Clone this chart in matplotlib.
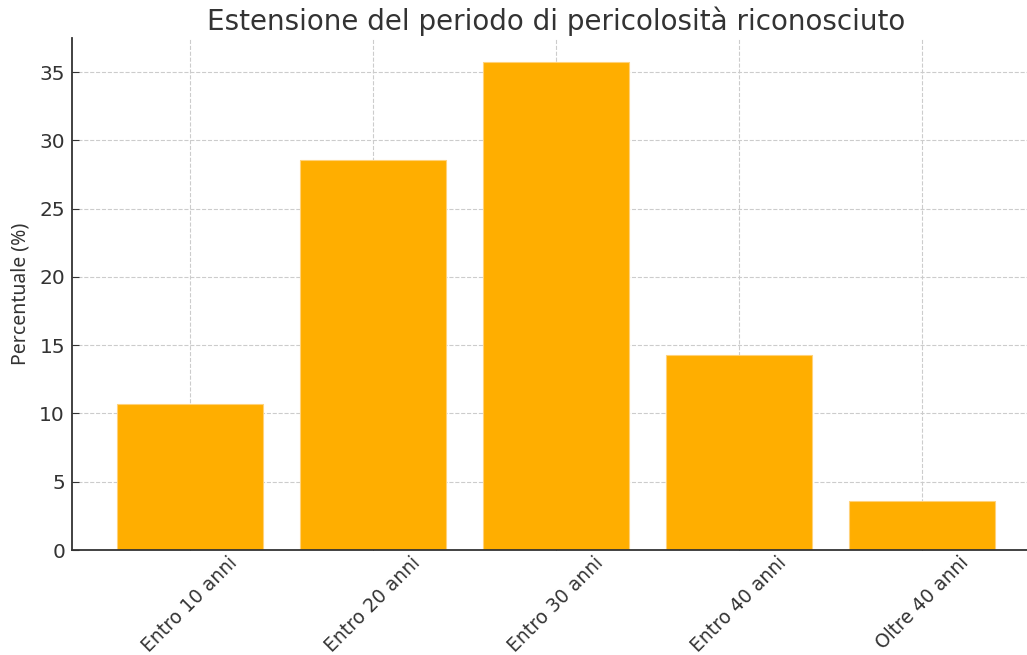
import matplotlib
matplotlib.use("Agg")
import matplotlib.pyplot as plt

plt.rcParams["font.family"] = ["DejaVu Sans"]

categories = ["Entro 10 anni", "Entro 20 anni", "Entro 30 anni", "Entro 40 anni", "Oltre 40 anni"]
values = [10.71, 28.57, 35.71, 14.29, 3.57]
title = "Estensione del periodo di pericolosità riconosciuto"
ylabel = "Percentuale (%)"

text_color = "#333333"
bar_color = "#FFAE00"

fig = plt.figure(figsize=(10.27, 6.55), dpi=100)
ax = fig.add_axes([72 / 1027, 1 - 550 / 655, (1027 - 72) / 1027, (550 - 38) / 655])

x = list(range(len(categories)))
ax.bar(x, values, width=0.8, color=bar_color, edgecolor="#FFD27A", linewidth=0.8, zorder=2)

ax.set_xlim(-0.645, 4.574)
ax.set_ylim(0, 37.5)
ax.set_xticks(x)
ax.set_xticklabels(categories, rotation=45, ha="center", fontsize=13.5, color=text_color)
ax.set_yticks([0, 5, 10, 15, 20, 25, 30, 35])
ax.tick_params(axis="y", labelsize=14.5, labelcolor=text_color, direction="in", length=5, color=text_color, pad=5)
ax.tick_params(axis="x", direction="in", length=5, color=text_color, pad=2)

ax.grid(True, linestyle="--", color="#cccccc", linewidth=0.8, zorder=0)
ax.set_axisbelow(True)
for s in ["top", "right"]:
    ax.spines[s].set_visible(False)
for s in ["left", "bottom"]:
    ax.spines[s].set_color(text_color)
    ax.spines[s].set_linewidth(1.3)

ax.set_ylabel(ylabel, fontsize=14, color=text_color, family=["Noto Sans"], labelpad=6)
ax.set_title(title, fontsize=20, color=text_color, pad=6, x=0.507)

fig.savefig("out.png", dpi=100)
